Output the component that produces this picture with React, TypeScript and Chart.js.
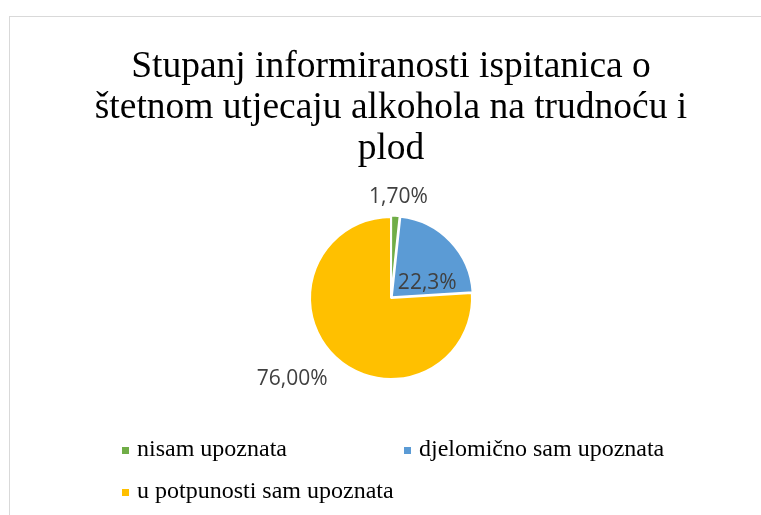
import React, { useEffect, useRef } from "react";
import { Chart, registerables } from "chart.js";

Chart.register(...registerables);

const TITLE_LINES = [
  "Stupanj informiranosti ispitanica o",
  "štetnom utjecaju alkohola na trudnoću i",
  "plod",
];
const CATEGORIES = ["nisam upoznata", "djelomično sam upoznata", "u potpunosti sam upoznata"];
const VALUES = [1.7, 22.3, 76.0];
const VALUE_LABELS = ["1,70%", "22,3%", "76,00%"];
const LABEL_PLACEMENT = ["outside", "inside", "outside"];
const COLORS = ["#70AD47", "#5B9BD5", "#FFC000"];
const OFFSETS = [3, 4, 0];

const SERIF = "'Liberation Serif', 'Times New Roman', serif";
const SANS = "'Open Sans', 'Noto Sans', sans-serif";

const W = 768;
const H = 498;

const dataLabelPlugin = {
  id: "sliceLabels",
  afterDatasetsDraw(chart: any) {
    const ctx = chart.ctx;
    const meta = chart.getDatasetMeta(0);
    ctx.save();
    ctx.font = `21px ${SANS}`;
    ctx.fillStyle = "#404040";
    ctx.textAlign = "center";
    ctx.textBaseline = "middle";
    meta.data.forEach((arc: any, i: number) => {
      const { x, y, startAngle, endAngle, outerRadius } = arc.getProps(
        ["x", "y", "startAngle", "endAngle", "outerRadius"],
        true
      );
      const mid = (startAngle + endAngle) / 2;
      const dx = Math.cos(mid);
      const dy = Math.sin(mid);
      const text = VALUE_LABELS[i];
      const w = ctx.measureText(text).width + 24;
      const h = 16;
      let cx: number, cy: number;
      if (LABEL_PLACEMENT[i] === "inside") {
        const r = outerRadius * 0.62;
        cx = x + dx * r;
        cy = y + dy * r + 20;
      } else {
        const r = outerRadius + 16;
        cx = x + dx * r + (dx * w) / 2;
        cy = y + dy * r + (dy * h) / 2 + 4;
      }
      ctx.fillText(text, cx, cy);
    });
    ctx.restore();
  },
};

const legendPlugin = {
  id: "gridLegend",
  afterDraw(chart: any) {
    const ctx = chart.ctx;
    const ds = chart.data.datasets[0];
    const labels = chart.data.labels as string[];
    const colW = 282;
    const left = 112;
    const firstBaseline = 439;
    const rowH = 42;
    ctx.save();
    ctx.font = `24px ${SERIF}`;
    ctx.textBaseline = "alphabetic";
    ctx.textAlign = "left";
    labels.forEach((lab, i) => {
      const col = i % 2;
      const row = Math.floor(i / 2);
      const x = left + col * colW;
      const base = firstBaseline + row * rowH;
      ctx.fillStyle = ds.backgroundColor[i];
      ctx.fillRect(x, base - 9, 7, 7);
      ctx.fillStyle = "#000000";
      ctx.fillText(lab, x + 15, base);
    });
    ctx.restore();
  },
};

export default function App() {
  const ref = useRef<HTMLCanvasElement | null>(null);

  useEffect(() => {
    if (!ref.current) return;
    const chart = new Chart(ref.current, {
      type: "pie",
      data: {
        labels: CATEGORIES,
        datasets: [
          {
            data: VALUES,
            backgroundColor: COLORS,
            borderColor: "#ffffff",
            borderWidth: 2,
            offset: OFFSETS,
            radius: 81,
          } as any,
        ],
      },
      options: {
        responsive: false,
        animation: false,
        layout: { padding: { left: 0, right: 6, top: 0, bottom: 89 } },
        plugins: {
          legend: { display: false },
          tooltip: { enabled: false },
          title: {
            display: true,
            text: TITLE_LINES,
            color: "#000000",
            font: { family: SERIF, size: 37.5, weight: "normal", lineHeight: "41px" },
            padding: { top: 30, bottom: 0 },
          },
        },
      },
      plugins: [dataLabelPlugin, legendPlugin],
    });
    return () => chart.destroy();
  }, []);

  return (
    <div
      style={{
        position: "fixed",
        left: 0,
        top: 0,
        width: 761,
        height: 515,
        overflow: "hidden",
        background: "#ffffff",
      }}
    >
      <div
        style={{
          position: "absolute",
          left: 9,
          top: 16,
          width: 790,
          height: 530,
          border: "1px solid #d9d9d9",
        }}
      />
      <canvas
        ref={ref}
        width={W}
        height={H}
        style={{ position: "absolute", left: 10, top: 17, width: W, height: H }}
      />
    </div>
  );
}
